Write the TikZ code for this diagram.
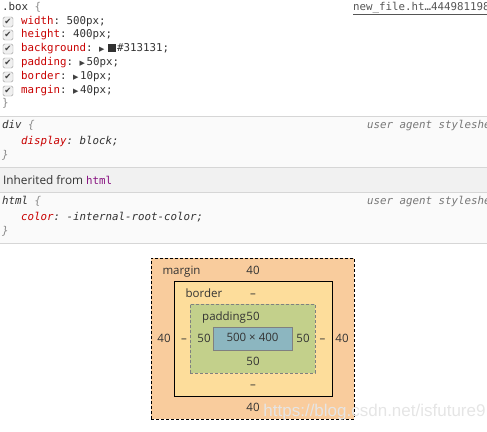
\documentclass[tikz,border=0pt]{standalone}
\usepackage{fontspec}
\usepackage{xcolor}
\usepackage{tikz}
\setmainfont{Open Sans}
\setmonofont{DejaVu Sans Mono}
\newfontfamily\symfont{DejaVu Sans}
\newfontfamily\wmfont{Liberation Sans}

\definecolor{propred}{HTML}{C80000}
\definecolor{valgray}{HTML}{333333}
\definecolor{bracegray}{HTML}{8A8A8A}
\definecolor{uagray}{HTML}{777777}
\definecolor{linkgray}{HTML}{555555}
\definecolor{linegray}{HTML}{D6D6D6}
\definecolor{uabg}{HTML}{FAFAFA}
\definecolor{inhbg}{HTML}{F1F1F1}
\definecolor{htmlpurple}{HTML}{881280}
\definecolor{swatchcol}{HTML}{313131}
\definecolor{marginfill}{HTML}{F9CC9D}
\definecolor{borderfill}{HTML}{FDDD9B}
\definecolor{paddingfill}{HTML}{C3D08B}
\definecolor{contentfill}{HTML}{8CB6C0}

\newcommand{\tri}{{\symfont\fontsize{7}{7}\selectfont\textcolor{darkgray}{▶}}}
\newcommand{\swatch}{\textcolor{swatchcol}{\rule[-0.5pt]{8pt}{8pt}}}

\begin{document}
\begin{tikzpicture}[x=1pt,y=-1pt,
  code/.style={anchor=west,inner sep=0pt,font=\fontsize{10.8}{13}\ttfamily,text=valgray,text height=8pt,text depth=2.5pt},
  ua/.style={code,font=\fontsize{10.8}{13}\ttfamily\itshape},
  chk/.style={draw=gray!80,fill=gray!12,rounded corners=1.5pt,minimum size=10pt,inner sep=0pt,font=\fontsize{8.5}{8.5}\symfont,text=darkgray},
  sep/.style={draw=linegray,line width=0.8pt},
  box/.style={minimum width=#1,inner sep=0pt},
  fine/.style={dash pattern=on 3pt off 2pt},
  lbl/.style={inner sep=0pt,font=\fontsize{11.5}{12}\selectfont,text=valgray,text height=8.5pt,text depth=2.5pt}]
\useasboundingbox (0,0) rectangle (487,431);

% user agent bands
\fill[uabg] (0,116) rectangle (487,167);
\fill[inhbg] (0,167) rectangle (487,192);
\fill[uabg] (0,192) rectangle (487,243);
\draw[sep] (0,116) -- (487,116);
\draw[sep] (0,167) -- (487,167);
\draw[sep] (0,192) -- (487,192);
\draw[sep] (0,243) -- (487,243);

% .box rule
\node (sel) at (2,8) [code] {.box \textcolor{bracegray}{\{}};
\node (link) at (353,8) [code,text=linkgray] {\underline{new\_file.ht…444981198}};
\node (c1) at (8,22) [chk] {✔};
\node (c2) at (8,35) [chk] {✔};
\node (c3) at (8,49) [chk] {✔};
\node (c4) at (8,63) [chk] {✔};
\node (c5) at (8,77) [chk] {✔};
\node (c6) at (8,91) [chk] {✔};
\node (width) at (21,22) [code] {\textcolor{propred}{width}: 500px;};
\node (height) at (21,35) [code] {\textcolor{propred}{height}: 400px;};
\node (bg) at (21,49) [code] {\textcolor{propred}{background}: \tri\hspace{3pt}\swatch\hspace{1.5pt}\#313131;};
\node (pad) at (21,63) [code] {\textcolor{propred}{padding}: \tri\hspace{1.5pt}50px;};
\node (bord) at (21,77) [code] {\textcolor{propred}{border}: \tri\hspace{1.5pt}10px;};
\node (marg) at (21,91) [code] {\textcolor{propred}{margin}: \tri\hspace{1.5pt}40px;};
\node (end1) at (2,104) [code,text=bracegray] {\}};

% div rule
\node (div) at (2,126) [ua] {div \textcolor{bracegray}{\{}};
\node (ua1) at (367,126) [ua,text=uagray] {user agent stylesheet};
\node (disp) at (21,142) [ua] {\textcolor{propred}{display}: block;};
\node (end2) at (2,156) [ua,text=bracegray] {\}};

% inherited
\node (inh) at (3,180) [anchor=west,inner sep=0pt,font=\fontsize{11.8}{13}\selectfont,text=valgray] {Inherited from \textcolor{htmlpurple}{\ttfamily\fontsize{10.8}{13}\selectfont html}};

% html rule
\node (htm) at (2,202) [ua] {html \textcolor{bracegray}{\{}};
\node (ua2) at (367,202) [ua,text=uagray] {user agent stylesheet};
\node (col) at (21,218) [ua] {\textcolor{propred}{color}: -internal-root-color;};
\node (end3) at (2,232) [ua,text=bracegray] {\}};

% box model
\node (margin) at (252.5,338.5) [box=203pt,minimum height=161pt,fill=marginfill,draw=black,fine] {};
\node (border) at (253,338.5) [box=158pt,minimum height=115pt,fill=borderfill,draw=black,line width=0.8pt] {};
\node (padding) at (252.5,338.5) [box=125pt,minimum height=69pt,fill=paddingfill,draw=gray,fine] {};
\node (content) at (252.5,338.5) [box=79pt,minimum height=23pt,fill=contentfill,draw=gray,lbl] {500 × 400};

\node (mlbl) at (181.5,271) [lbl] {margin};
\node (mt) at (253,271) [lbl] {40};
\node (ml) at (164,339) [lbl] {40};
\node (mr) at (342,339) [lbl] {40};
\node (mb) at (253,408) [lbl] {40};
\node (blbl) at (204,294) [lbl] {border};
\node (bt) at (253,294) [lbl] {–};
\node (bl) at (184,339) [lbl] {–};
\node (br) at (322.5,339) [lbl] {–};
\node (bb) at (253,385) [lbl] {–};
\node (plbl) at (202,317) [lbl,anchor=west] {padding};
\node (pt) at (253,317) [lbl] {50};
\node (pl) at (204,339) [lbl] {50};
\node (pr) at (303,339) [lbl] {50};
\node (pb) at (253,362) [lbl] {50};

% watermark
\node (wm) at (374.5,412) [inner sep=0pt,font=\fontsize{17}{17}\wmfont,text=white!80!gray] {https://blog.csdn.net/isfuture9};
\end{tikzpicture}
\end{document}
